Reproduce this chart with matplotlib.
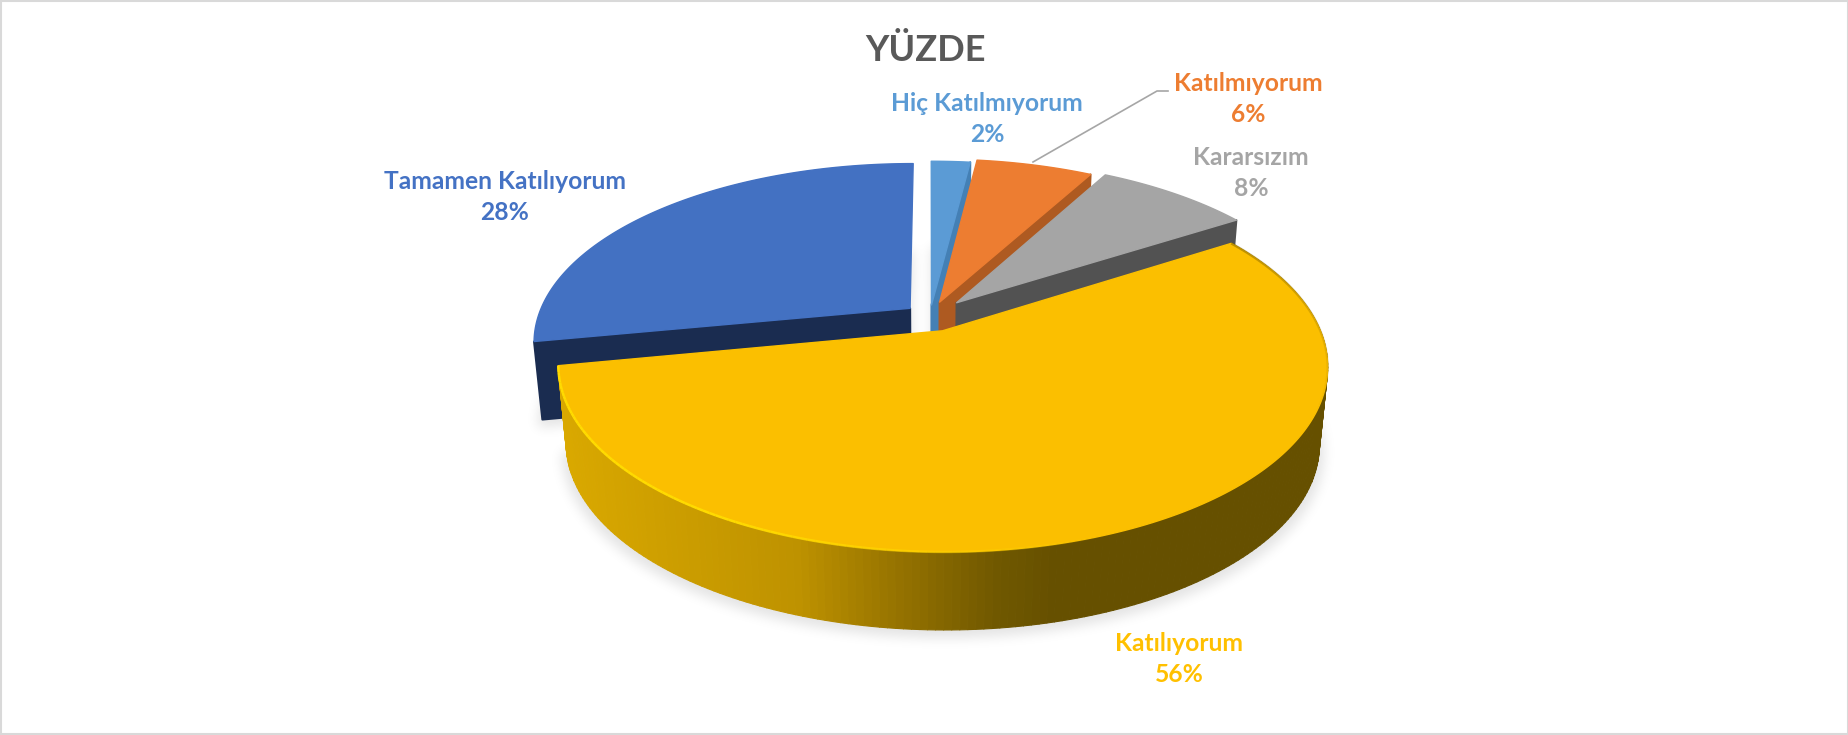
import numpy as np
import matplotlib
matplotlib.use('Agg')
import matplotlib.pyplot as plt
from matplotlib.collections import LineCollection, PolyCollection
from matplotlib.patches import Polygon, Rectangle
from matplotlib.path import Path

plt.rcParams['font.family'] = ['Lato', 'DejaVu Sans']

# Daten
categories = ['Hiç Katılmıyorum', 'Katılmıyorum', 'Kararsızım', 'Katılıyorum', 'Tamamen Katılıyorum']
values = [2, 6, 8, 56, 28]
title = 'YÜZDE'

# Stil
top_colors = ['#5B9BD5', '#ED7D31', '#A5A5A5', '#FBBF00', '#4371C2']
side_colors = ['#4480B5', '#AE5A21', '#525252', '#665000', '#1A2C50']
label_colors = ['#5B9BD5', '#ED7D31', '#A5A5A5', '#FFC000', '#4472C4']
explode = [0.064, 0.085, 0.106, 0.090, 0.070]
label_pos = [(987, 119), (1248, 99), (1251, 173), (1179, 659), (505, 197)]

W, H = 1849, 735
CX, CY = 930, 316      # Mitte der Torte in Pixeln
R = 372                # Radius
K = 0.468              # Neigung
P = 0.185              # Perspektive
DEPTH = 78             # Dicke
TAPER = 0.021


def project(u, v, z=0.0):
    s = 1 / (1 - P * v)
    return CX + R * u * s * (1 - TAPER * z), CY + K * R * v * s + z * DEPTH


def slice_outline(start, end, e, z=0.0, n=200):
    mid = np.radians((start + end) / 2)
    ex, ev = e * np.sin(mid), -e * np.cos(mid)
    th = np.radians(np.linspace(start, end, n))
    x, y = project(ex + np.sin(th), ev - np.cos(th), z)
    ax_, ay_ = project(ex, ev, z)
    return np.column_stack([x, y]), np.array([ax_, ay_])


def rim_color(x):
    # Farbverlauf der Mantelfläche von links nach rechts
    xs = [555, 800, 900, 1000, 1060]
    rgb = np.array([[218, 169, 0], [190, 146, 0], [150, 115, 0], [112, 88, 0], [102, 80, 0]]) / 255
    return [np.interp(x, xs, rgb[:, i]) for i in range(3)]


fig = plt.figure(figsize=(W / 100, H / 100), dpi=100)
ax = fig.add_axes([0, 0, 1, 1])
ax.set_xlim(0, W)
ax.set_ylim(H, 0)
ax.axis('off')

ax.add_patch(Rectangle((1, 1), W - 2, H - 2, fc='white', ec='#D9D9D9', lw=1.5, zorder=0))

bounds = np.cumsum([0] + values) / sum(values) * 360

# Weicher Schatten aus den Bodenflächen
gx, gy = np.meshgrid(np.arange(W) + 0.5, np.arange(H) + 0.5)
pts = np.column_stack([gx.ravel(), gy.ravel()])
mask = np.zeros(W * H, dtype=bool)
for i in range(len(values)):
    arc, apex = slice_outline(bounds[i], bounds[i + 1], explode[i], 1.0)
    poly = np.vstack([arc, apex])
    poly = (poly - [CX, 380]) * [1.012, 1.0] + [CX, 388]
    mask |= Path(poly).contains_points(pts)
shadow = mask.reshape(H, W).astype(float)
kern = np.exp(-0.5 * (np.arange(-18, 19) / 6.0) ** 2)
kern /= kern.sum()
shadow = np.apply_along_axis(lambda r: np.convolve(r, kern, mode='same'), 0, shadow)
shadow = np.apply_along_axis(lambda r: np.convolve(r, kern, mode='same'), 1, shadow)
rgba = np.zeros((H, W, 4))
rgba[..., 3] = shadow * 0.11
ax.imshow(rgba, extent=(0, W, H, 0), zorder=1, aspect='auto', interpolation='bilinear')
ax.set_xlim(0, W)
ax.set_ylim(H, 0)

# Reihenfolge: hinten nach vorne, die große gelbe Scheibe zuletzt
draw_order = [4, 0, 1, 2, 3]
z = 2
for i in draw_order:
    start, end = bounds[i], bounds[i + 1]
    top, apex = slice_outline(start, end, explode[i], 0.0)
    low, apex_low = slice_outline(start, end, explode[i], 1.0)

    if i == 3:
        # Mantelfläche mit Verlauf
        quads = [[top[j], top[j + 1], low[j + 1], low[j]] for j in range(len(top) - 1)]
        cols = [rim_color(q[0][0]) for q in quads]
        ax.add_collection(PolyCollection(quads, facecolors=cols, edgecolors=cols, lw=0.8, zorder=z))
    else:
        # Schnittfläche am Ende des Segments (bei Blau am Anfang)
        corner, corner_low = (top[0], low[0]) if i == 4 else (top[-1], low[-1])
        ax.add_patch(Polygon([apex, corner, corner_low, apex_low], closed=True, fc=side_colors[i],
                             ec=side_colors[i], lw=1.5, joinstyle='round', zorder=z))
    z += 1
    ax.add_patch(Polygon(np.vstack([top, apex]), closed=True, fc=top_colors[i], ec=top_colors[i],
                         lw=1, joinstyle='round', zorder=z))
    z += 1

    if i == 3:
        # Lichtkante vorne links, dunkle Kante rechts
        segs = np.stack([top[:-1], top[1:]], axis=1)
        frac = np.linspace(0, 1, len(segs))
        seg_cols = []
        for f in frac:
            if f > 0.5:
                seg_cols.append((1.0, 0.86, 0.0, min(1.0, (f - 0.5) * 4)))
            else:
                seg_cols.append((0.45, 0.35, 0.0, max(0.0, 0.45 - f * 1.6)))
        ax.add_collection(LineCollection(segs, colors=seg_cols, lw=1.8, zorder=z))
        z += 1

# Führungslinie für Katılmıyorum
ax.plot([1033, 1157, 1168], [162, 91, 91], color='#A6A6A6', lw=1.2, zorder=z)

for name, val, col, pos in zip(categories, values, label_colors, label_pos):
    ax.text(pos[0], pos[1], f'{name}\n{val}%', color=col, fontsize=17.7, fontweight='bold',
            ha='center', va='center', linespacing=1.45, zorder=z + 1)

ax.text(926, 50, title, color='#595959', fontsize=26, fontweight='bold', ha='center', va='center', zorder=z + 1)

fig.savefig('out.png', dpi=100)
